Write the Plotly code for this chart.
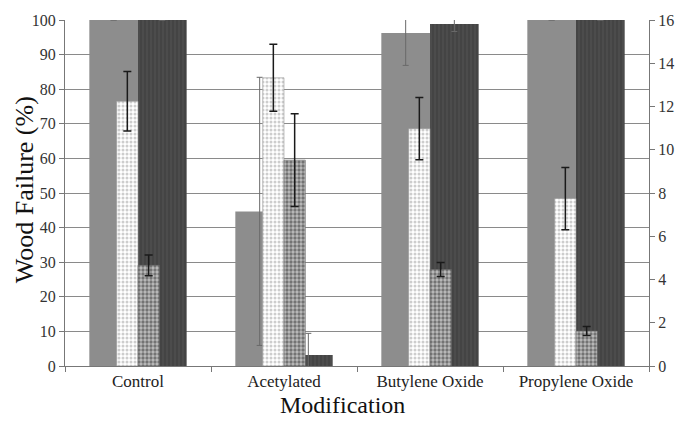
import plotly.graph_objects as go

# Treatment groups
categories = ["Control", "Acetylated", "Butylene Oxide", "Propylene Oxide"]

# Wide bars, read on the right-hand axis (0-16)
solid_gray = [16, 7.15, 15.4, 16]
solid_gray_err = [None, 6.2, 1.5, None]
dark_striped = [16, 0.51, 15.82, 16]
dark_striped_err = [None, 1.0, 0.35, None]

# Narrow bars, read on the left-hand axis, Wood Failure (%)
dotted = [76.5, 83.3, 68.6, 48.4]
dotted_err = [8.6, 9.7, 9.0, 9.0]
checkered = [29.1, 59.5, 27.9, 10.1]
checkered_err = [3.0, 13.4, 2.0, 1.3]

left_ticks = list(range(0, 101, 10))
right_ticks = list(range(0, 17, 2))

SERIF = "Liberation Serif"
WIDE = 1 / 3
NARROW = 0.146

fig = go.Figure()

fig.add_trace(go.Bar(
    x=categories, y=solid_gray, yaxis="y",
    width=WIDE, offset=-WIDE,
    marker=dict(color="#8d8d8d", line=dict(width=0)),
    error_y=dict(type="data", array=solid_gray_err, color="#6a6a6a",
                 thickness=1, width=3),
    showlegend=False,
))
fig.add_trace(go.Bar(
    x=categories, y=dark_striped, yaxis="y",
    width=WIDE, offset=0,
    marker=dict(color="#4b4b4b", line=dict(width=0),
                pattern=dict(shape="|", fgcolor="#5a5a5a", bgcolor="#444444",
                             size=4, solidity=0.35)),
    error_y=dict(type="data", array=dark_striped_err, color="#6a6a6a",
                 thickness=1, width=3),
    showlegend=False,
))
fig.add_trace(go.Bar(
    x=categories, y=dotted, yaxis="y2",
    width=NARROW, offset=-NARROW,
    marker=dict(color="white", line=dict(width=0.6, color="#9a9a9a"),
                pattern=dict(shape=".", fgcolor="#9c9c9c", bgcolor="#ffffff",
                             size=4, solidity=0.45)),
    error_y=dict(type="data", array=dotted_err, color="#1a1a1a",
                 thickness=1.5, width=4),
    showlegend=False,
))
fig.add_trace(go.Bar(
    x=categories, y=checkered, yaxis="y2",
    width=NARROW, offset=0,
    marker=dict(color="white", line=dict(width=0.6, color="#666666"),
                pattern=dict(shape=".", fgcolor="#2a2a2a", bgcolor="#bdbdbd",
                             size=4, solidity=0.55)),
    error_y=dict(type="data", array=checkered_err, color="#1a1a1a",
                 thickness=1.5, width=4),
    showlegend=False,
))

fig.update_layout(
    width=686, height=422,
    margin=dict(l=65, r=33, t=19, b=56),
    paper_bgcolor="white", plot_bgcolor="white",
    barmode="overlay",
    font=dict(family=SERIF, color="#2a2a2a"),
    xaxis=dict(
        type="category", range=[-0.5, 3.5],
        showline=True, linecolor="#777777", linewidth=1,
        ticks="outside", tickson="boundaries", ticklen=5, tickcolor="#777777",
        showgrid=False,
        tickfont=dict(size=17, family=SERIF, color="#222222"),
    ),
    # right-hand axis (0-16), drawn underneath
    yaxis=dict(
        side="right", range=[0, 16], tickvals=right_ticks,
        showline=True, linecolor="#777777", linewidth=1,
        ticks="outside", ticklen=5, tickcolor="#777777",
        showgrid=False, zeroline=False,
        tickfont=dict(size=16, family=SERIF, color="#333333"),
    ),
    # left-hand axis, Wood Failure (%)
    yaxis2=dict(
        overlaying="y", side="left", range=[0, 100], tickvals=left_ticks,
        showline=True, linecolor="#777777", linewidth=1,
        ticks="outside", ticklen=5, tickcolor="#777777",
        showgrid=True, gridcolor="#8a8a8a", gridwidth=1, zeroline=False,
        tickfont=dict(size=16, family=SERIF, color="#333333"),
    ),
    annotations=[
        dict(text="Modification", xref="paper", yref="paper",
             x=0.476, y=-0.07, xanchor="center", yanchor="top", showarrow=False,
             font=dict(size=24, family=SERIF, color="#111111")),
        dict(text="Wood Failure (%)", xref="paper", yref="paper",
             x=-0.069, y=0.51, xanchor="center", yanchor="middle", textangle=-90,
             showarrow=False,
             font=dict(size=26, family=SERIF, color="#111111")),
    ],
)

fig.write_html("out.html")
